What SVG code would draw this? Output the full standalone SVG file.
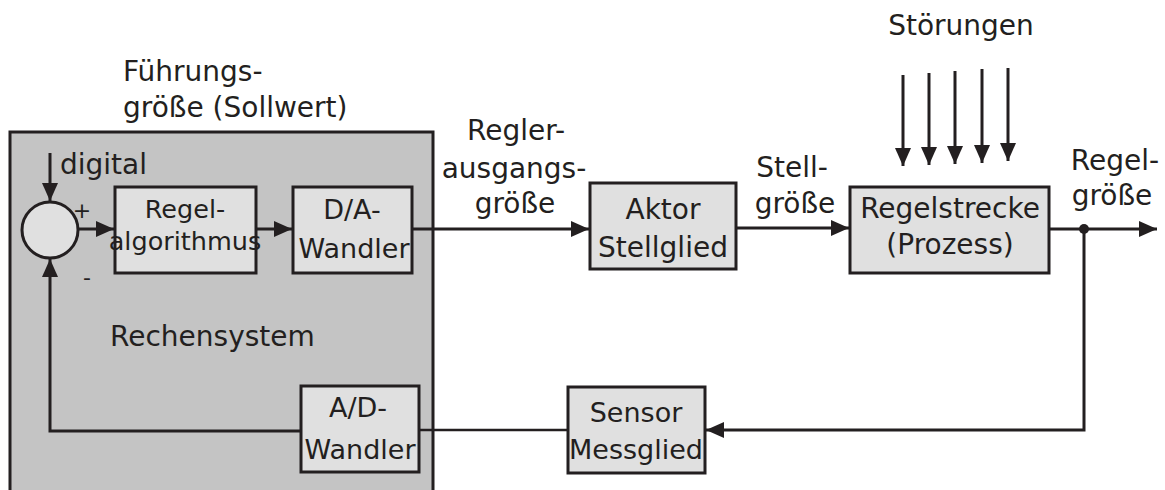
<svg xmlns="http://www.w3.org/2000/svg" width="1165" height="490" viewBox="0 0 1165 490">
<defs>
<style>
text{font-family:"DejaVu Sans","Liberation Sans",sans-serif;font-size:28px;fill:#231f20;}
.c{text-anchor:middle;}
.box{fill:#e0e0e0;stroke:#231f20;stroke-width:3;}
.ln{fill:none;stroke:#231f20;stroke-width:3;}
.thin{fill:none;stroke:#231f20;stroke-width:2.5;}
</style>
<marker id="ah" markerUnits="userSpaceOnUse" markerWidth="19" markerHeight="16" refX="18" refY="8" orient="auto">
<path d="M0,0 L18,8 L0,16 Z" fill="#231f20"/>
</marker>
</defs>
<rect width="1165" height="490" fill="#ffffff"/>

<g id="rechensystem">
<rect x="10" y="132" width="423" height="370" fill="#c4c4c4" stroke="#231f20" stroke-width="3"/>
<text x="110" y="346">Rechensystem</text>
</g>

<g id="fuehrungsgroesse">
<text x="123" y="81">Führungs-</text>
<text x="123" y="117">größe (Sollwert)</text>
</g>

<g id="stoerungen-label">
<text class="c" x="961" y="35">Störungen</text>
</g>

<g id="summierer">
<circle cx="50" cy="230" r="28" fill="#e0e0e0" stroke="#231f20" stroke-width="3"/>
<text x="60" y="174">digital</text>
<text class="c" x="82" y="218" style="font-size:22px">+</text>
<text class="c" x="87" y="285" style="font-size:22px">-</text>
</g>

<g id="regelalgorithmus">
<rect class="box" x="115" y="187" width="141" height="86"/>
<text class="c" x="185" y="218" style="font-size:25.5px">Regel-</text>
<text class="c" x="185" y="250" style="font-size:25.5px">algorithmus</text>
</g>

<g id="da-wandler">
<rect class="box" x="293" y="187" width="119" height="86"/>
<text class="c" x="352" y="219" style="font-size:27px">D/A-</text>
<text class="c" x="354" y="258" style="font-size:27px">Wandler</text>
</g>

<g id="aktor">
<rect class="box" x="590" y="183" width="146" height="86"/>
<text class="c" x="663" y="219">Aktor</text>
<text class="c" x="663" y="257">Stellglied</text>
</g>

<g id="regelstrecke">
<rect class="box" x="850" y="187" width="199" height="86"/>
<text class="c" x="950" y="218">Regelstrecke</text>
<text class="c" x="950" y="254">(Prozess)</text>
</g>

<g id="sensor">
<rect class="box" x="568" y="387" width="137" height="86"/>
<text class="c" x="636" y="422" style="font-size:27px">Sensor</text>
<text class="c" x="636" y="459" style="font-size:27px">Messglied</text>
</g>

<g id="ad-wandler">
<rect class="box" x="301" y="386" width="118" height="86"/>
<text class="c" x="358" y="417" style="font-size:27px">A/D-</text>
<text class="c" x="360" y="459" style="font-size:27px">Wandler</text>
</g>

<g id="labels">
<text class="c" x="516" y="140">Regler-</text>
<text class="c" x="514" y="178">ausgangs-</text>
<text class="c" x="515" y="213">größe</text>
<text class="c" x="792" y="177">Stell-</text>
<text class="c" x="795" y="213">größe</text>
<text class="c" x="1115" y="170">Regel-</text>
<text class="c" x="1112" y="205">größe</text>
</g>

<g id="connectors">
<line class="ln" x1="50" y1="153" x2="50" y2="201" marker-end="url(#ah)"/>
<line class="ln" x1="78" y1="229" x2="114" y2="229" marker-end="url(#ah)"/>
<line class="ln" x1="256" y1="229" x2="292" y2="229" marker-end="url(#ah)"/>
<line class="ln" x1="412" y1="229" x2="589" y2="229" marker-end="url(#ah)"/>
<line class="ln" x1="736" y1="228" x2="849" y2="228" marker-end="url(#ah)"/>
<line class="ln" x1="1049" y1="229" x2="1157" y2="229" marker-end="url(#ah)"/>
<circle cx="1084" cy="229" r="5" fill="#231f20"/>
<polyline class="ln" points="1084,229 1084,430 706,430" marker-end="url(#ah)"/>
<line class="thin" x1="568" y1="430" x2="419" y2="430"/>
<polyline class="ln" points="301,431 50,431 50,259" marker-end="url(#ah)"/>
<line class="ln" x1="903" y1="75" x2="903" y2="166" marker-end="url(#ah)"/>
<line class="ln" x1="929" y1="73" x2="929" y2="165" marker-end="url(#ah)"/>
<line class="ln" x1="955" y1="71" x2="955" y2="164" marker-end="url(#ah)"/>
<line class="ln" x1="982" y1="69" x2="982" y2="163" marker-end="url(#ah)"/>
<line class="ln" x1="1008" y1="68" x2="1008" y2="161" marker-end="url(#ah)"/>
</g>
</svg>
